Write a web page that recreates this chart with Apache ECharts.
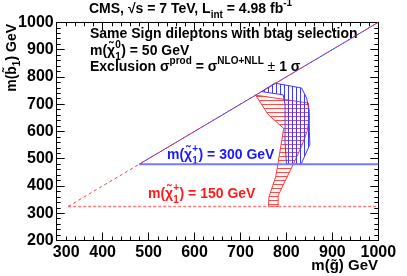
<!DOCTYPE html>
<html><head><meta charset="utf-8">
<script src="https://cdn.jsdelivr.net/npm/echarts@6/dist/echarts.min.js"></script>
<style>html,body{margin:0;padding:0;background:#fff}#c{width:407px;height:276px}</style>
</head><body><div id="c"></div>
<script>
// ---- data ----
const xTickValues = [300, 400, 500, 600, 700, 800, 900, 1000];
const yTickValues = [200, 300, 400, 500, 600, 700, 800, 900, 1000];
// exclusion band for m(chargino)=150 GeV (between -1 sigma and +1 sigma contours)
const band150 = [[733,733],[848,704],[850,650],[845,600],[833,545],[815,480],[782,365],[782,325],[761,325],[762,360],[777,435],[790,568],[794,611],[760,662]];
// exclusion band for m(chargino)=300 GeV
const band300 = [[746,746],[775,777],[833,759],[844,722],[849,678],[850,600],[851,552],[832,480],[800,480],[797,560],[797,700],[793,734]];
// kinematic limits
const diag150 = [[325,325],[1000,1000]];
const diag300 = [[480,480],[1000,1000]];
const horiz150 = [[325,325],[1000,325]];
const horiz300 = [[480,480],[1000,480]];

// ---- helpers ----
function hatch(color, dir, gap){
  const c = document.createElement('canvas'); c.width = gap; c.height = gap;
  const g = c.getContext('2d'); g.strokeStyle = color; g.lineWidth = 1; g.beginPath();
  if (dir === 'h') { g.moveTo(0, 0.5); g.lineTo(gap, 0.5); } else { g.moveTo(0.5, 0); g.lineTo(0.5, gap); }
  g.stroke(); return c;
}
const mctx = document.createElement('canvas').getContext('2d');
function tw(t, font){ mctx.font = font; return mctx.measureText(t).width; }
const FF = '"Liberation Sans", Arial, Helvetica, sans-serif';
function F(sz){ return 'bold ' + sz + 'px ' + FF; }

// stacked superscript/subscript label: pre + [sup/sub] + post
function stacked(x, y, pre, sup, sub, post, color, sz){
  const f = F(sz), fs = F(Math.round(sz*0.7));
  const w1 = tw(pre, f);
  const ws = Math.max(tw(sup, fs), tw(sub, fs));
  return [
    {type:'text', x:x, y:y, style:{text:pre, font:f, fill:color, align:'left', verticalAlign:'middle'}},
    {type:'text', x:x+w1, y:y-sz*0.42, style:{text:sup, font:fs, fill:color, align:'left', verticalAlign:'middle'}},
    {type:'text', x:x+w1, y:y+sz*0.45, style:{text:sub, font:fs, fill:color, align:'left', verticalAlign:'middle'}},
    {type:'text', x:x+w1+ws+0.5, y:y, style:{text:post, font:f, fill:color, align:'left', verticalAlign:'middle'}}
  ];
}

const redPat = {image: hatch('#ff4a4a', 'h', 4), repeat: 'repeat'};
const bluePat = {image: hatch('#3a3aff', 'v', 4), repeat: 'repeat'};

function bandSeries(pts, pat, stroke){
  return {
    type:'custom', coordinateSystem:'cartesian2d', data: pts, encode:{x:0, y:1}, clip:true,
    renderItem: function(params, api){
      if (params.dataIndex !== 0) return null;
      const points = pts.map(p => api.coord(p));
      return {type:'polygon', shape:{points: points}, style:{fill: pat, stroke: stroke, lineWidth: 1}};
    }
  };
}
function lineSeries(pts, color, width, type){
  return {type:'line', data: pts, symbol:'none', silent:true,
    lineStyle:{color: color, width: width, type: type}};
}

function axisBase(){
  return {
    type:'value', axisLine:{show:true, lineStyle:{color:'#000', width:1}},
    axisTick:{show:true, inside:true, length:8, lineStyle:{color:'#000'}},
    minorTick:{show:true, splitNumber:5, length:4, lineStyle:{color:'#000'}},
    splitLine:{show:false}
  };
}
const labelStyle = {color:'#000', fontFamily: FF, fontWeight:'bold', fontSize:16};

const chart = echarts.init(document.getElementById('c'), null, {renderer:'canvas'});
const graphics = [];
graphics.push({type:'text', x:89, y:9, style:{
  text:'{n|CMS, √s = 7 TeV, L}{sb|int}{n| = 4.98 fb}{sp|-1}',
  rich:{
    n:{fontFamily:FF, fontWeight:'bold', fontSize:14, lineHeight:22, verticalAlign:'middle'},
    sb:{fontFamily:FF, fontWeight:'bold', fontSize:10, lineHeight:22, verticalAlign:'bottom'},
    sp:{fontFamily:FF, fontWeight:'bold', fontSize:10, lineHeight:22, verticalAlign:'top'}
  }, align:'left', verticalAlign:'middle', fill:'#000'}});
graphics.push({type:'text', x:90, y:34, style:{text:'Same Sign dileptons with btag selection', font:F(14), fill:'#000', align:'left', verticalAlign:'middle'}});
stacked(90, 51, 'm(χ̃', '0', '1', ') = 50 GeV', '#000', 14).forEach(e => graphics.push(e));
graphics.push({type:'text', x:90, y:67, style:{
  text:'{n|Exclusion σ}{sp|prod}{n| = σ}{sp|NLO+NLL}{m| ±}{n| 1 σ}',
  rich:{
    n:{fontFamily:FF, fontWeight:'bold', fontSize:14, lineHeight:22, verticalAlign:'middle'},
    m:{fontFamily:FF, fontWeight:'normal', fontSize:14, lineHeight:22, verticalAlign:'middle'},
    sp:{fontFamily:FF, fontWeight:'bold', fontSize:10, lineHeight:22, verticalAlign:'top'}
  }, align:'left', verticalAlign:'middle', fill:'#000'}});
stacked(167, 155, 'm(χ̃', '+', '1', ') = 300 GeV', '#1a1aff', 14).forEach(e => graphics.push(e));
stacked(148, 194, 'm(χ̃', '+', '1', ') = 150 GeV', '#ff1a1a', 14).forEach(e => graphics.push(e));
// axis titles
graphics.push({type:'text', x:378, y:266, style:{text:'m(g̃) GeV', font:F(15), fill:'#000', align:'right', verticalAlign:'middle'}});
graphics.push({type:'text', x:12, y:24, rotation:Math.PI/2, style:{
  text:'{n|m(b̃}{sb|1}{n|) GeV}',
  rich:{
    n:{fontFamily:FF, fontWeight:'bold', fontSize:14, lineHeight:20, verticalAlign:'middle'},
    sb:{fontFamily:FF, fontWeight:'bold', fontSize:10, lineHeight:20, verticalAlign:'bottom'}
  }, align:'right', verticalAlign:'middle', fill:'#000'}});

const option = {
  animation:false,
  backgroundColor:'#fff',
  grid:{left:56.7, right:28.7, top:22.3, bottom:35.5},
  xAxis:[
    Object.assign(axisBase(), {min:300, max:1000, interval:100, position:'bottom',
      axisLabel:Object.assign({margin:4,
        formatter: v => !xTickValues.includes(v) ? '' : (v === xTickValues[0] ? '{f|' + v + '}' : String(v)),
        rich:{f:{fontFamily:FF, fontWeight:'bold', fontSize:16, color:'#000', padding:[0,0,0,19]}}}, labelStyle)}),
    Object.assign(axisBase(), {min:300, max:1000, interval:100, position:'top', axisLabel:{show:false}})
  ],
  yAxis:[
    Object.assign(axisBase(), {min:200, max:1000, interval:100, position:'left',
      axisLabel:Object.assign({margin:3, formatter: v => yTickValues.includes(v) ? String(v) : ''}, labelStyle)}),
    Object.assign(axisBase(), {min:200, max:1000, interval:100, position:'right', axisLabel:{show:false}})
  ],
  series:[
    bandSeries(band150, redPat, '#ff3a3a'),
    bandSeries(band300, bluePat, '#3a3aff'),
    lineSeries(horiz150, '#ff7a7a', 1.5, [3,2]),
    lineSeries(horiz300, '#7a7aff', 2, 'solid'),
    lineSeries(diag300, '#3a3aff', 1, 'solid'),
    lineSeries(diag150, '#ff3a3a', 1, [3,3])
  ],
  graphic: graphics
};
chart.setOption(option);
</script></body></html>
